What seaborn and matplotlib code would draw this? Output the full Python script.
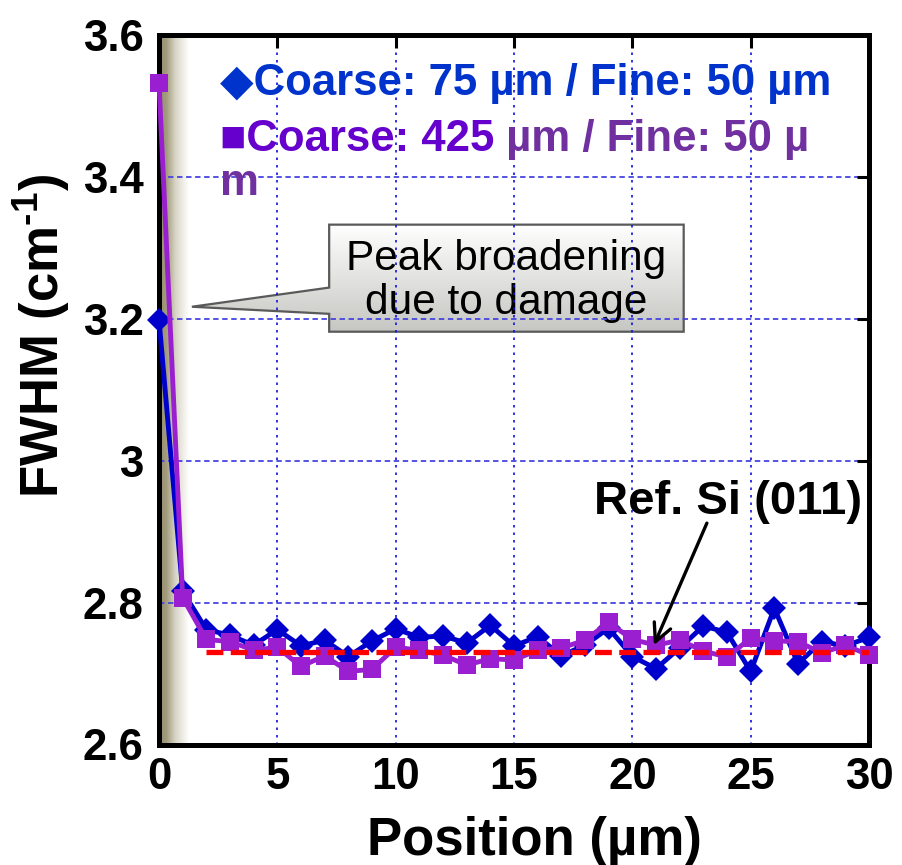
import numpy as np
import pandas as pd
import matplotlib
matplotlib.use("Agg")
import matplotlib.pyplot as plt
import seaborn as sns
from matplotlib.patches import Polygon
from matplotlib.colors import LinearSegmentedColormap

# ---------------- data ----------------
positions = list(range(31))
fwhm_75 = [3.199, 2.816, 2.762, 2.754, 2.740, 2.762, 2.739, 2.747, 2.724, 2.746, 2.763,
           2.751, 2.753, 2.743, 2.768, 2.739, 2.752, 2.725, 2.740, 2.764, 2.724,
           2.707, 2.736, 2.767, 2.758, 2.703, 2.792, 2.714, 2.745, 2.739, 2.751]
fwhm_425 = [3.533, 2.807, 2.748, 2.745, 2.733, 2.737, 2.710, 2.725, 2.703, 2.706, 2.737,
            2.733, 2.726, 2.712, 2.721, 2.719, 2.733, 2.736, 2.747, 2.772, 2.748,
            2.740, 2.747, 2.732, 2.723, 2.750, 2.746, 2.745, 2.729, 2.740, 2.726]
ref_x = [2, 30]
ref_y = [2.73, 2.73]
x_ticks = [0, 5, 10, 15, 20, 25, 30]
y_ticks = [2.6, 2.8, 3.0, 3.2, 3.4, 3.6]
y_tick_labels = ["2.6", "2.8", "3", "3.2", "3.4", "3.6"]

legend_1 = "◆Coarse: 75 µm / Fine: 50 µm"
legend_2a = "■Coarse: 425"
legend_2b = " µm / Fine: 50 µ"
legend_2c = "m"
callout_text = "Peak broadening\ndue to damage"
ref_text = "Ref. Si (011)"
x_label = "Position (µm)"
y_label = r"FWHM (cm$^{\text{-}1}$)"

BLUE = "#0000cc"
PURPLE = "#9a1fd0"

# ---------------- style ----------------
sns.set_style("white")
plt.rcParams["font.family"] = ["Liberation Sans", "DejaVu Sans"]
plt.rcParams["text.color"] = "black"
plt.rcParams["xtick.color"] = "black"
plt.rcParams["ytick.color"] = "black"
plt.rcParams["mathtext.fontset"] = "custom"
plt.rcParams["mathtext.rm"] = "Liberation Sans:bold"
plt.rcParams["mathtext.bf"] = "Liberation Sans:bold"
plt.rcParams["mathtext.it"] = "Liberation Sans:bold:italic"

fig = plt.figure(figsize=(9.02, 8.65), dpi=100)
ax = fig.add_axes([159 / 902, 1 - 744.5 / 865, 710 / 902, 709.5 / 865])

# left gradient (damaged layer)
cmap = LinearSegmentedColormap.from_list(
    "olive", [(0, "#928b6b"), (0.25, "#a39c7e"), (0.55, "#d8d5c6"), (1, "#ffffff")])
ax.imshow(np.linspace(0, 1, 256).reshape(1, -1), cmap=cmap, aspect="auto",
          extent=[0, 1.25, 2.6, 3.6], zorder=0.5, interpolation="bicubic")

# grid
ax.set_axisbelow("line")
ax.xaxis.grid(True, color="#1010e0", lw=1.2, ls=(0, (1.5, 3.0)))
ax.yaxis.grid(True, color="#4545e0", lw=1.3, ls=(0, (3, 2)))

# callout
box_x0, box_x1, box_y0, box_y1 = 7.19, 22.17, 3.1818, 3.3327
tip = (1.39, 3.217)
poly = Polygon([(box_x0, box_y1), (box_x1, box_y1), (box_x1, box_y0), (box_x0, box_y0),
                (box_x0, 3.207), tip, (box_x0, 3.244)], closed=True,
               facecolor="none", edgecolor="#5a5a5a", lw=1.6, zorder=1.1)
ax.add_patch(poly)
grad = LinearSegmentedColormap.from_list("g", ["#c6c6c2", "#ffffff"])
im = ax.imshow(np.linspace(0, 1, 256).reshape(-1, 1), cmap=grad, aspect="auto",
               origin="lower", extent=[tip[0], box_x1, box_y0, box_y1], zorder=1.0)
im.set_clip_path(poly)
ax.text(14.66, 3.253, callout_text, ha="center", va="center", fontsize=30.5,
        linespacing=1.12, color="black", zorder=1.2)

# data lines
sns.lineplot(x=positions, y=fwhm_75, ax=ax, color=BLUE, lw=3.5, marker="D",
             markersize=12, mec=BLUE, mew=0, clip_on=False, zorder=4)
sns.lineplot(x=positions, y=fwhm_425, ax=ax, color=PURPLE, lw=3.5, marker="s",
             markersize=13, mec=PURPLE, mew=0, clip_on=False, zorder=5)
sns.lineplot(x=ref_x, y=ref_y, ax=ax, color="#ff0000", lw=3.8, zorder=6)
ax.lines[-1].set_dashes([3.2, 1.4])
ax.lines[-1].set_dash_capstyle("butt")

# reference annotation
ax.text(24.06, 2.942, ref_text, ha="center", va="center", fontsize=34,
        fontweight="bold", color="black", zorder=7)
ax.annotate("", xy=(20.91, 2.740), xytext=(23.15, 2.912),
            arrowprops=dict(arrowstyle="->", lw=2.4, color="black",
                            mutation_scale=32, shrinkA=0, shrinkB=0), zorder=7)

# legend-like texts
ax.text(2.58, 3.515, legend_1, ha="left", va="baseline", fontsize=31.5,
        fontweight="bold", color="#0033cc", zorder=7)
t2a = ax.text(2.58, 3.436, legend_2a, ha="left", va="baseline", fontsize=31.5,
              fontweight="bold", color="#6600cc", zorder=7)
ax.annotate(legend_2b, xy=(1, 0), xycoords=t2a, ha="left", va="bottom",
            fontsize=31.5, fontweight="bold", color="#7030a0", zorder=7)
ax.text(2.58, 3.375, legend_2c, ha="left", va="baseline", fontsize=31.5,
        fontweight="bold", color="#7030a0", zorder=7)

# axes
ax.set_xlim(0, 30)
ax.set_ylim(2.6, 3.6)
ax.set_xticks(x_ticks)
ax.set_xticklabels([str(v) for v in x_ticks])
ax.set_yticks(y_ticks)
ax.set_yticklabels(y_tick_labels)
ax.tick_params(direction="in", length=9, width=2.2, top=True, right=True,
               labelsize=31.5, color="black", labelcolor="black")
ax.tick_params(axis="y", pad=11)
ax.tick_params(axis="x", pad=9)
for lab in ax.get_xticklabels() + ax.get_yticklabels():
    lab.set_fontweight("bold")
for sp in ax.spines.values():
    sp.set_linewidth(3.6)
    sp.set_color("black")
    sp.set_zorder(3)
ax.set_xlabel("")
ax.set_ylabel("")

fig.text(534 / 902, 1 - 855 / 865, x_label, ha="center", va="baseline",
         fontsize=38, fontweight="bold", color="black")
fig.text(42 / 902, 1 - 336 / 865, y_label, ha="center", va="center",
         rotation=90, fontsize=38, fontweight="bold", color="black")

fig.savefig("out.png", dpi=100)
